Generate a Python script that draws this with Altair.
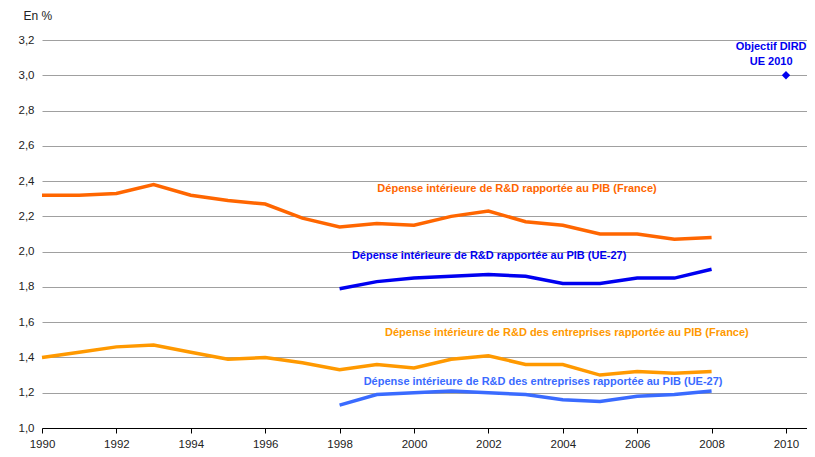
import altair as alt
import pandas as pd

years_fr = list(range(1990, 2009))
years_ue = list(range(1998, 2009))

dird_france = [2.32, 2.32, 2.33, 2.38, 2.32, 2.29, 2.27, 2.19, 2.14, 2.16, 2.15,
               2.20, 2.23, 2.17, 2.15, 2.10, 2.10, 2.07, 2.08]
dirde_france = [1.40, 1.43, 1.46, 1.47, 1.43, 1.39, 1.40, 1.37, 1.33, 1.36, 1.34,
                1.39, 1.41, 1.36, 1.36, 1.30, 1.32, 1.31, 1.32]
dird_ue = [1.79, 1.83, 1.85, 1.86, 1.87, 1.86, 1.82, 1.82, 1.85, 1.85, 1.90]
dirde_ue = [1.13, 1.19, 1.20, 1.21, 1.20, 1.19, 1.16, 1.15, 1.18, 1.19, 1.21]

series_names = ["DIRD France", "DIRDE France", "DIRD UE-27", "DIRDE UE-27"]
series_colors = ["#FF6600", "#FF9900", "#0000F0", "#3A6BFF"]

target_year = [2010]
target_value = [3.0]

label_texts = [
    "Dépense intérieure de R&D rapportée au PIB (France)",
    "Dépense intérieure de R&D rapportée au PIB (UE-27)",
    "Dépense intérieure de R&D des entreprises rapportée au PIB (France)",
    "Dépense intérieure de R&D des entreprises rapportée au PIB (UE-27)",
    "Objectif DIRD",
    "UE 2010",
]
label_x = [2002.77, 2002.02, 2004.11, 2003.47, 2009.6, 2009.6]
label_y = [2.355, 1.975, 1.539, 1.261, 3.16, 3.075]
label_colors = ["#FF6600", "#0000F0", "#FF9900", "#3A6BFF", "#0000F0", "#0000F0"]

rows = []
for y, v in zip(years_fr, dird_france):
    rows.append({"series": series_names[0], "year": y, "value": v})
for y, v in zip(years_fr, dirde_france):
    rows.append({"series": series_names[1], "year": y, "value": v})
for y, v in zip(years_ue, dird_ue):
    rows.append({"series": series_names[2], "year": y, "value": v})
for y, v in zip(years_ue, dirde_ue):
    rows.append({"series": series_names[3], "year": y, "value": v})
df = pd.DataFrame(rows)

df_target = pd.DataFrame({"year": target_year, "value": target_value})
df_labels = pd.DataFrame({"text": label_texts, "year": label_x, "value": label_y,
                          "color": label_colors})

x_scale = alt.Scale(domain=[1990, 2010.565], nice=False, zero=False)
y_scale = alt.Scale(domain=[1.0, 3.2], nice=False, zero=False)

x_axis = alt.Axis(values=list(range(1990, 2011, 2)), format="d", grid=False,
                  tickCount=30, labelOverlap=False,
                  labelFontSize=11.5, labelColor="#222", labelFont="Liberation Sans",
                  domainColor="#000", tickColor="#000", tickSize=5, labelPadding=5,
                  title=None, labelFlush=False)
y_axis = alt.Axis(values=[1.0, 1.2, 1.4, 1.6, 1.8, 2.0, 2.2, 2.4, 2.6, 2.8, 3.0, 3.2],
                  tickCount=30, labelOverlap=False,
                  labelExpr="replace(format(datum.value, '.1f'), '.', ',')",
                  grid=True, gridColor="#A0A0A0", gridWidth=1, domain=False, ticks=False,
                  labelFontSize=11.5, labelColor="#222", labelFont="Liberation Sans",
                  labelPadding=8,
                  title="En %", titleAngle=0, titleAlign="left", titleBaseline="middle",
                  titleX=-19, titleY=-25, titleFontWeight="normal", titleFontSize=12,
                  titleFont="Liberation Sans", titleColor="#222")

lines = alt.Chart(df).mark_line(strokeWidth=3.5).encode(
    x=alt.X("year:Q", scale=x_scale, axis=x_axis),
    y=alt.Y("value:Q", scale=y_scale, axis=y_axis),
    color=alt.Color("series:N", scale=alt.Scale(domain=series_names, range=series_colors),
                    legend=None),
    detail="series:N",
)

target = alt.Chart(df_target).mark_point(shape="diamond", filled=True, size=70,
                                         color="#0000F0", opacity=1).encode(
    x="year:Q", y="value:Q")

labels = alt.Chart(df_labels).mark_text(fontWeight="bold", fontSize=11,
                                        font="Liberation Sans", align="center",
                                        baseline="middle").encode(
    x="year:Q", y="value:Q", text="text:N",
    color=alt.Color("color:N", scale=None))

chart = alt.layer(lines, target, labels).properties(
    width=765, height=388,
    padding={"left": 34, "top": 32, "right": 0, "bottom": 21},
    autosize=alt.AutoSizeParams(type="none"),
).configure_view(stroke=None)

chart.save("out.html", embed_options={"renderer": "svg", "actions": False})
